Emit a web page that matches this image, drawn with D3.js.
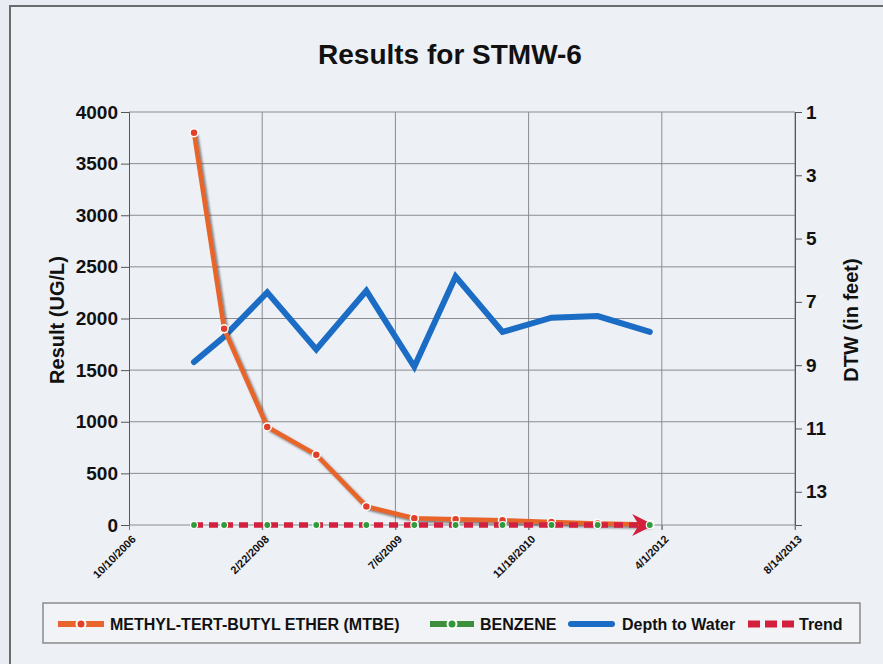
<!DOCTYPE html>
<html>
<head>
<meta charset="utf-8">
<script src="https://cdn.jsdelivr.net/npm/d3@7"></script>
<style>
  body { margin: 0; background: #e9edf3; }
  svg { display: block; font-family: "Liberation Sans", Arial, sans-serif; }
</style>
</head>
<body>
<div id="chart"></div>
<script>
// sample data
var sampleDates = ["2007-06-11", "2007-10-02", "2008-03-12", "2008-09-12", "2009-03-19",
  "2009-09-15", "2010-02-17", "2010-08-12", "2011-02-12", "2011-08-04", "2012-02-16"];
var mtbe = [3800, 1900, 950, 680, 180, 65, 55, 45, 30, 15, 5];
var benzene = [0, 0, 0, 0, 0, 0, 0, 0, 0, 0, 0];
var dtw = [8.9, 8.1, 6.7, 8.5, 6.65, 9.05, 6.2, 7.95, 7.5, 7.45, 7.95];
var trend = [0, 0];
var xTickDates = ["2006-10-10", "2008-02-22", "2009-07-06", "2010-11-18", "2012-04-01", "2013-08-14"];
var leftTicks = [0, 500, 1000, 1500, 2000, 2500, 3000, 3500, 4000];
var rightTicks = [1, 3, 5, 7, 9, 11, 13];
var legendNames = ["METHYL-TERT-BUTYL ETHER (MTBE)", "BENZENE", "Depth to Water", "Trend"];

var svgWidth = 883;
var svgHeight = 664;

var margin = { top: 112, right: 88, bottom: 139, left: 129 };
var width = svgWidth - margin.left - margin.right;
var height = svgHeight - margin.top - margin.bottom;

var parse = d3.timeParse("%Y-%m-%d");
var fmt = d3.timeFormat("%-m/%-d/%Y");

var svg = d3.select("#chart")
  .append("svg")
  .attr("width", svgWidth)
  .attr("height", svgHeight);

var defs = svg.append("defs");
var shadow = defs.append("filter").attr("id", "shadow")
  .attr("x", "-10%").attr("y", "-50%").attr("width", "130%").attr("height", "200%");
shadow.append("feDropShadow")
  .attr("dx", 2).attr("dy", 2).attr("stdDeviation", 1)
  .attr("flood-color", "#333").attr("flood-opacity", 0.6);

defs.append("marker")
  .attr("id", "arrow")
  .attr("viewBox", "0 0 10 10")
  .attr("refX", 8).attr("refY", 5)
  .attr("markerWidth", 4).attr("markerHeight", 4)
  .attr("markerUnits", "strokeWidth")
  .attr("orient", "auto")
  .append("path")
  .attr("d", "M0,0 L10,5 L0,10 L3,5 Z")
  .attr("fill", "#d4203f");

// outer frame
svg.append("rect")
  .attr("x", 10).attr("y", 6)
  .attr("width", svgWidth).attr("height", svgHeight)
  .attr("fill", "#edf0f5")
  .attr("stroke", "#6b6b6b")
  .attr("stroke-width", 2);

var chartGroup = svg.append("g")
  .attr("transform", `translate(${margin.left}, ${margin.top})`);

var xScale = d3.scaleTime()
  .domain([parse(xTickDates[0]), parse(xTickDates[xTickDates.length - 1])])
  .range([0, width]);

var yLeft = d3.scaleLinear().domain([0, 4000]).range([height, 0]);
var yRight = d3.scaleLinear().domain([1, 14.05]).range([0, height]);

// grid
chartGroup.append("g")
  .selectAll("line")
  .data(leftTicks)
  .enter()
  .append("line")
  .attr("x1", 0).attr("x2", width)
  .attr("y1", d => yLeft(d)).attr("y2", d => yLeft(d))
  .attr("stroke", "#8a8c90").attr("stroke-width", 1);

chartGroup.append("g")
  .selectAll("line")
  .data(xTickDates.slice(1))
  .enter()
  .append("line")
  .attr("x1", d => xScale(parse(d))).attr("x2", d => xScale(parse(d)))
  .attr("y1", 0).attr("y2", height + 5)
  .attr("stroke", "#8a8c90").attr("stroke-width", 1);

// axes
var leftAxis = d3.axisLeft(yLeft).tickValues(leftTicks).tickFormat(d3.format("d"))
  .tickSize(8).tickPadding(3);
var rightAxis = d3.axisRight(yRight).tickValues(rightTicks).tickSize(7).tickPadding(4);
var bottomAxis = d3.axisBottom(xScale)
  .tickValues(xTickDates.map(parse)).tickFormat(fmt).tickSize(5).tickPadding(4);

var gl = chartGroup.append("g").call(leftAxis);
var gr = chartGroup.append("g").attr("transform", `translate(${width}, 0)`).call(rightAxis);
[gl, gr].forEach(g => {
  g.select(".domain").attr("stroke", "#555");
  g.selectAll(".tick line").attr("stroke", "#555");
  g.selectAll("text").attr("font-size", "19px").attr("font-weight", "bold").attr("fill", "#111")
    .attr("font-family", "Liberation Sans, Arial, sans-serif");
});

var gb = chartGroup.append("g").attr("transform", `translate(0, ${height})`).call(bottomAxis);
gb.select(".domain").remove();
gb.selectAll(".tick line").attr("stroke", "#777");
gb.selectAll("text")
  .attr("font-size", "11px")
  .attr("font-weight", "bold")
  .attr("fill", "#111")
  .attr("font-family", "Liberation Sans, Arial, sans-serif")
  .style("text-anchor", "end")
  .attr("transform", "translate(-4,4) rotate(-45)")
  .attr("dx", "0").attr("dy", "0.6em");

// series
var dates = sampleDates.map(parse);

var lineLeft = d3.line().x((d, i) => xScale(dates[i])).y(d => yLeft(d));
var lineRight = d3.line().x((d, i) => xScale(dates[i])).y(d => yRight(d));

// depth to water
chartGroup.append("path")
  .datum(dtw)
  .attr("d", lineRight)
  .attr("fill", "none")
  .attr("stroke", "#1a6cc4")
  .attr("stroke-width", 6)
  .attr("stroke-linejoin", "miter")
  .attr("stroke-linecap", "round");

// mtbe
chartGroup.append("path")
  .datum(mtbe)
  .attr("d", lineLeft)
  .attr("fill", "none")
  .attr("stroke", "#e8652b")
  .attr("stroke-width", 4.5)
  .attr("filter", "url(#shadow)");

chartGroup.selectAll(".mtbe-dot")
  .data(mtbe)
  .enter()
  .append("circle")
  .attr("class", "mtbe-dot")
  .attr("cx", (d, i) => xScale(dates[i]))
  .attr("cy", d => yLeft(d))
  .attr("r", 4)
  .attr("fill", "#e0402a")
  .attr("stroke", "#fff")
  .attr("stroke-width", 1.5);

// benzene
chartGroup.append("path")
  .datum(benzene)
  .attr("d", lineLeft)
  .attr("fill", "none")
  .attr("stroke", "#3d8f3a")
  .attr("stroke-width", 5)
  .attr("filter", "url(#shadow)");

// trend
var trendDates = [dates[0], dates[dates.length - 1]];
chartGroup.append("path")
  .datum(trend)
  .attr("d", d3.line().x((d, i) => xScale(trendDates[i])).y(d => yLeft(d)))
  .attr("fill", "none")
  .attr("stroke", "#d4203f")
  .attr("stroke-width", 5.5)
  .attr("stroke-dasharray", "9,6")
  .attr("marker-end", "url(#arrow)");

chartGroup.selectAll(".benz-dot")
  .data(benzene)
  .enter()
  .append("circle")
  .attr("class", "benz-dot")
  .attr("cx", (d, i) => xScale(dates[i]))
  .attr("cy", d => yLeft(d))
  .attr("r", 3.5)
  .attr("fill", "#2f9a3a")
  .attr("stroke", "#fff")
  .attr("stroke-width", 1.2);

// titles
svg.append("text")
  .attr("x", 450).attr("y", 64)
  .attr("text-anchor", "middle")
  .attr("font-size", "28px")
  .attr("font-weight", "bold")
  .attr("fill", "#111")
  .text("Results for STMW-6");

svg.append("text")
  .attr("transform", "translate(64, 320) rotate(-90)")
  .attr("text-anchor", "middle")
  .attr("font-size", "20px")
  .attr("font-weight", "bold")
  .attr("fill", "#111")
  .text("Result (UG/L)");

svg.append("text")
  .attr("transform", "translate(858, 320) rotate(-90)")
  .attr("text-anchor", "middle")
  .attr("font-size", "20px")
  .attr("font-weight", "bold")
  .attr("fill", "#111")
  .text("DTW (in feet)");

// legend
var legend = svg.append("g");
legend.append("rect")
  .attr("x", 43).attr("y", 603)
  .attr("width", 817).attr("height", 40)
  .attr("fill", "#f1f3f7")
  .attr("stroke", "#8a8a8a")
  .attr("stroke-width", 1.5);

var swatchX = [58, 430, 571, 748];
var textX = [110, 480, 622, 799];
var ly = 624;

// mtbe swatch
legend.append("line").attr("x1", swatchX[0]).attr("x2", swatchX[0] + 46)
  .attr("y1", ly).attr("y2", ly).attr("stroke", "#e8652b").attr("stroke-width", 6);
legend.append("circle").attr("cx", swatchX[0] + 23).attr("cy", ly).attr("r", 4.5)
  .attr("fill", "#e0402a").attr("stroke", "#fff").attr("stroke-width", 2);
// benzene swatch
legend.append("line").attr("x1", swatchX[1]).attr("x2", swatchX[1] + 44)
  .attr("y1", ly).attr("y2", ly).attr("stroke", "#3d8f3a").attr("stroke-width", 6);
legend.append("circle").attr("cx", swatchX[1] + 22).attr("cy", ly).attr("r", 4.5)
  .attr("fill", "#2f9a3a").attr("stroke", "#fff").attr("stroke-width", 2);
// dtw swatch
legend.append("line").attr("x1", swatchX[2]).attr("x2", swatchX[2] + 41)
  .attr("y1", ly).attr("y2", ly).attr("stroke", "#1a6cc4").attr("stroke-width", 6)
  .attr("stroke-linecap", "round");
// trend swatch
legend.append("line").attr("x1", swatchX[3]).attr("x2", swatchX[3] + 46)
  .attr("y1", ly).attr("y2", ly).attr("stroke", "#d4203f").attr("stroke-width", 7)
  .attr("stroke-dasharray", "12,5");

legend.selectAll(".ltext")
  .data(legendNames)
  .enter()
  .append("text")
  .attr("class", "ltext")
  .attr("x", (d, i) => textX[i])
  .attr("y", ly + 6)
  .attr("font-size", "16px")
  .attr("font-weight", "bold")
  .attr("fill", "#111")
  .text(d => d);
</script>
</body>
</html>
